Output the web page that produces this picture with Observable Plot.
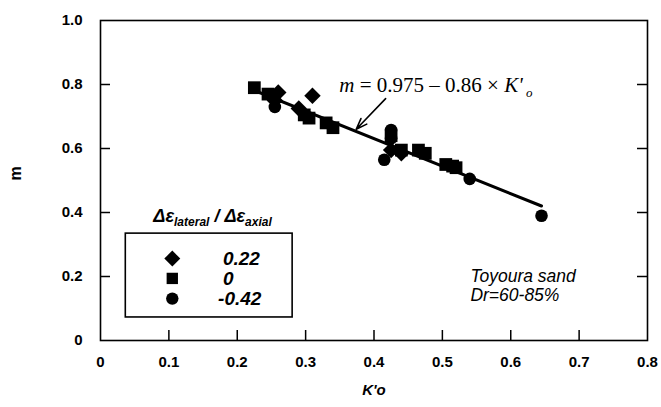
<!DOCTYPE html>
<html><head><meta charset="utf-8">
<script src="https://cdn.jsdelivr.net/npm/d3@7"></script>
<script src="https://cdn.jsdelivr.net/npm/@observablehq/plot@0.6"></script>
<style>body{margin:0;background:#fff} svg{display:block}</style>
</head><body><div id="chart"></div>
<script>
// ---- data ----
const diamondK = [0.255, 0.26, 0.29, 0.31, 0.425, 0.44];
const diamondM = [0.75, 0.775, 0.725, 0.765, 0.595, 0.585];
const squareK = [0.225, 0.245, 0.298, 0.305, 0.33, 0.34, 0.425, 0.44, 0.465, 0.475, 0.505, 0.515, 0.52];
const squareM = [0.79, 0.77, 0.705, 0.695, 0.68, 0.665, 0.64, 0.595, 0.595, 0.585, 0.55, 0.545, 0.54];
const circleK = [0.255, 0.415, 0.425, 0.425, 0.54, 0.645];
const circleM = [0.73, 0.565, 0.632, 0.658, 0.505, 0.39];
const seriesLabels = ["0.22", "0", "-0.42"];
const seriesSymbols = ["diamond2", "square", "circle"];
const fitIntercept = 0.975, fitSlope = -0.86;
const fitKRange = [0.225, 0.645];
const xTicks = [0, 0.1, 0.2, 0.3, 0.4, 0.5, 0.6, 0.7, 0.8];
const xTickLabels = ["0", "0.1", "0.2", "0.3", "0.4", "0.5", "0.6", "0.7", "0.8"];
const yTicks = [0, 0.2, 0.4, 0.6, 0.8, 1.0];
const yTickLabels = ["0", "0.2", "0.4", "0.6", "0.8", "1.0"];
const xLabel = "K'o", yLabel = "m";
const noteLines = ["Toyoura sand", "Dr=60-85%"];

// ---- build ----
const pts = (K, M) => K.map((k, i) => ({k, m: M[i]}));
const fitLine = fitKRange.map(k => ({k, m: fitIntercept + fitSlope * k}));
const W = 661, H = 407, mL = 100, mR = 14, mT = 20, mB = 67;
const fw = W - mL - mR, fh = H - mT - mB;
const sans = "'Liberation Sans', Arial, sans-serif";
const legendRows = [0.256, 0.194, 0.131];
const legendSizes = [7.2, 6.4, 6.2];

const plot = Plot.plot({
  width: W, height: H,
  marginLeft: mL, marginRight: mR, marginTop: mT, marginBottom: mB,
  style: {fontFamily: sans, background: "#fff", color: "#000"},
  x: {domain: [0, 0.8]},
  y: {domain: [0, 1]},
  marks: [
    Plot.axisX({ticks: xTicks, tickSize: 0, tickPadding: 16, label: null,
      tickFormat: d => xTickLabels[xTicks.findIndex(t => Math.abs(t - d) < 1e-9)],
      fontSize: 15, fontWeight: "bold"}),
    Plot.axisY({ticks: yTicks, tickSize: 0, tickPadding: 18, label: null,
      tickFormat: d => yTickLabels[yTicks.findIndex(t => Math.abs(t - d) < 1e-9)],
      fontSize: 15, fontWeight: "bold"}),
    Plot.ruleX(xTicks.slice(1, -1), {insetTop: fh - 10, stroke: "#000", strokeWidth: 1.5}),
    Plot.ruleY(yTicks.slice(1, -1), {insetRight: fw - 10, stroke: "#000", strokeWidth: 1.5}),
    Plot.ruleY(yTicks.slice(1, -1), {insetLeft: fw - 10, stroke: "#000", strokeWidth: 1.5}),
    Plot.frame({stroke: "#000", strokeWidth: 1.6}),
    Plot.line(fitLine, {x: "k", y: "m", stroke: "#000", strokeWidth: 3}),
    Plot.dot(pts(squareK, squareM), {x: "k", y: "m", symbol: "square", r: 7.2, fill: "#000"}),
    Plot.dot(pts(circleK, circleM), {x: "k", y: "m", symbol: "circle", r: 6.3, fill: "#000"}),
    Plot.dot(pts(diamondK, diamondM), {x: "k", y: "m", symbol: "diamond2", r: 7.4, fill: "#000"}),
    Plot.arrow([{x1: 0.417, y1: 0.756, x2: 0.374, y2: 0.66}], {x1: "x1", y1: "y1", x2: "x2", y2: "y2",
      stroke: "#000", strokeWidth: 1.6, headLength: 11, headAngle: 40}),
    // legend
    Plot.rect([{x1: 0.037, x2: 0.281, y1: 0.072, y2: 0.334}], {x1: "x1", x2: "x2", y1: "y1", y2: "y2",
      fill: "none", stroke: "#000", strokeWidth: 1.6}),
    ...seriesSymbols.map((s, i) => Plot.dot([legendRows[i]],
      {x: () => 0.105, y: d => d, symbol: s, r: legendSizes[i], fill: "#000"})),
    Plot.text(seriesLabels.map((t, i) => ({t, m: legendRows[i], k: i === 2 ? 0.172 : 0.179})),
      {x: "k", y: "m", text: "t", textAnchor: "start", fontSize: 19, fontStyle: "italic", fontWeight: "bold"}),
    Plot.text(noteLines.map((t, i) => ({t, m: [0.2, 0.14][i]})),
      {x: () => 0.541, y: "m", text: "t", textAnchor: "start", fontSize: 17.5, fontStyle: "italic"}),
    Plot.text([xLabel], {frameAnchor: "bottom", dy: 54, text: d => d, fontSize: 15, fontStyle: "italic", fontWeight: "bold"}),
    Plot.text([yLabel], {frameAnchor: "left", dx: -85, rotate: -90, text: d => d, fontSize: 16, fontWeight: "bold"})
  ]
});

// subscripted annotations placed through the plot's scales
const sx = plot.scale("x"), sy = plot.scale("y");
const svg = d3.select(plot.tagName === "svg" ? plot : plot.querySelector("svg"));
const eq = svg.append("text")
  .attr("text-anchor", "start")
  .attr("x", sx.apply(0.35)).attr("y", sy.apply(0.775))
  .attr("font-family", "'Liberation Serif', 'Times New Roman', serif").attr("font-size", 21);
eq.append("tspan").attr("font-style", "italic").text("m");
eq.append("tspan").text(" = 0.975 \u2013 0.86 \u00d7 ");
eq.append("tspan").attr("font-style", "italic").text("K'");
eq.append("tspan").attr("font-style", "italic").attr("font-size", 13).attr("dy", 5).text(" o");

const lt = svg.append("text")
  .attr("text-anchor", "start")
  .attr("x", sx.apply(0.078)).attr("y", sy.apply(0.37))
  .attr("font-family", sans).attr("font-weight", "bold").attr("font-style", "italic").attr("font-size", 18);
lt.append("tspan").text("\u0394\u03b5");
lt.append("tspan").attr("font-size", 12).attr("dy", 4).text("lateral");
lt.append("tspan").attr("dy", -4).text(" / \u0394\u03b5");
lt.append("tspan").attr("font-size", 12).attr("dy", 4).text("axial");

document.getElementById("chart").appendChild(plot);
</script></body></html>
